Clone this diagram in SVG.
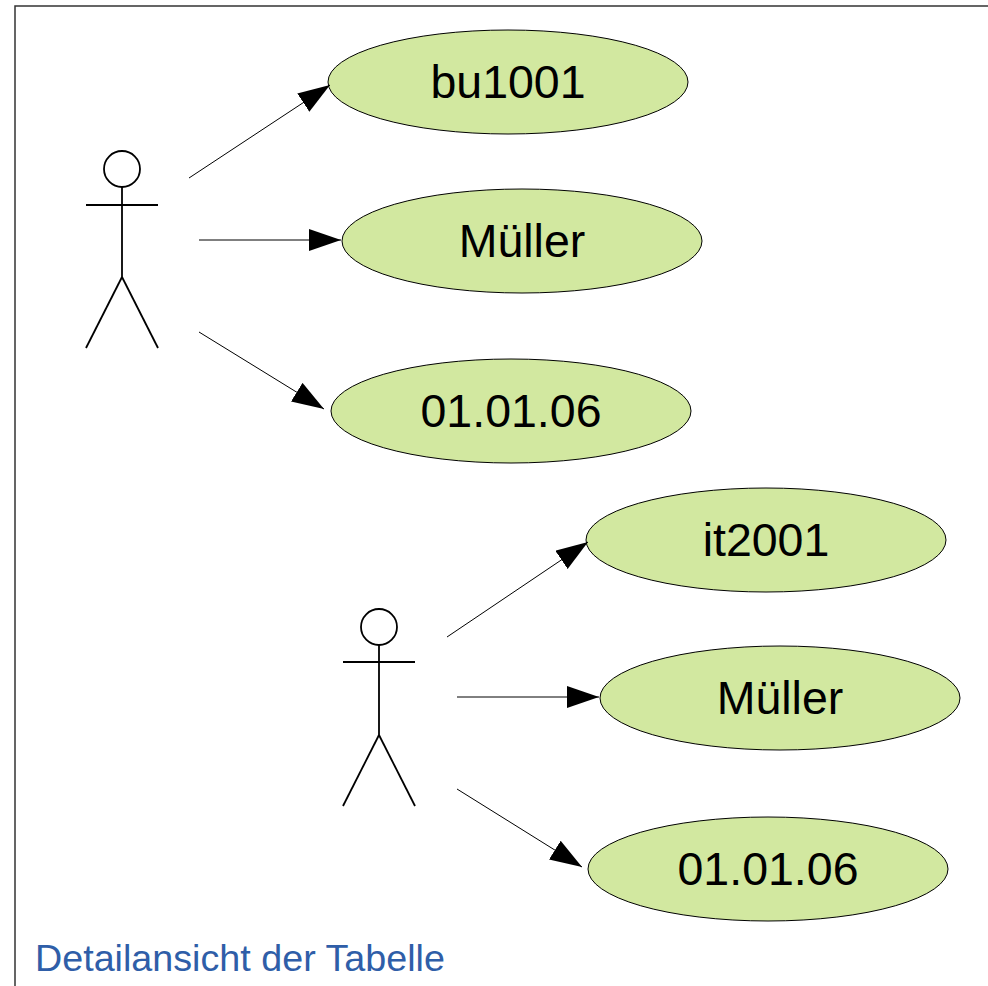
<svg xmlns="http://www.w3.org/2000/svg" width="988" height="986" viewBox="0 0 988 986">
<style>
.frame{fill:none;stroke:#333333;stroke-width:1.5}
.actor{fill:none;stroke:#000000;stroke-width:1.8}
.uc{fill:#d2e8a0;stroke:#000000;stroke-width:1}
.lbl{font-family:"Liberation Sans",Arial,sans-serif;font-size:46.5px;fill:#000000;text-anchor:middle}
.conn{stroke:#000000;stroke-width:1;fill:none}
.title{font-family:"Liberation Sans",Arial,sans-serif;font-size:37.7px;fill:#2f5ea8}
</style>
<defs>
<marker id="arrow" markerUnits="userSpaceOnUse" markerWidth="33" markerHeight="23" refX="32" refY="11" orient="auto">
<path d="M0,0 L32,11 L0,22 z" fill="#000000"/>
</marker>
</defs>
<rect width="988" height="986" fill="#ffffff"/>
<path class="frame" d="M15,986 V6 H988"/>

<g id="actor1" class="actor">
<circle cx="122" cy="169" r="18"/>
<line x1="86" y1="205" x2="158" y2="205"/>
<line x1="122" y1="187" x2="122" y2="277"/>
<line x1="122" y1="277" x2="86" y2="348"/>
<line x1="122" y1="277" x2="158" y2="348"/>
</g>
<g id="actor2" class="actor">
<circle cx="379" cy="627" r="18"/>
<line x1="343" y1="662" x2="415" y2="662"/>
<line x1="379" y1="645" x2="379" y2="735"/>
<line x1="379" y1="735" x2="343" y2="806"/>
<line x1="379" y1="735" x2="415" y2="806"/>
</g>

<g id="uc-bu1001"><ellipse class="uc" cx="508" cy="82" rx="180" ry="52"/><text class="lbl" x="508" y="98">bu1001</text></g>
<g id="uc-mueller1"><ellipse class="uc" cx="522" cy="241" rx="180" ry="52"/><text class="lbl" x="522" y="257">Müller</text></g>
<g id="uc-date1"><ellipse class="uc" cx="511" cy="411" rx="180" ry="52"/><text class="lbl" x="511" y="427">01.01.06</text></g>
<g id="uc-it2001"><ellipse class="uc" cx="766" cy="540" rx="180" ry="52"/><text class="lbl" x="766" y="556">it2001</text></g>
<g id="uc-mueller2"><ellipse class="uc" cx="780" cy="698" rx="180" ry="52"/><text class="lbl" x="780" y="714">Müller</text></g>
<g id="uc-date2"><ellipse class="uc" cx="768" cy="869" rx="180" ry="52"/><text class="lbl" x="768" y="885">01.01.06</text></g>

<g id="connectors" class="conn">
<line x1="189" y1="178" x2="330" y2="85" marker-end="url(#arrow)"/>
<line x1="199" y1="240" x2="341" y2="240" marker-end="url(#arrow)"/>
<line x1="199" y1="332" x2="324" y2="409" marker-end="url(#arrow)"/>
<line x1="447" y1="637" x2="588" y2="542" marker-end="url(#arrow)"/>
<line x1="457" y1="697" x2="599" y2="697" marker-end="url(#arrow)"/>
<line x1="457" y1="789" x2="582" y2="867" marker-end="url(#arrow)"/>
</g>

<text id="caption" class="title" x="35" y="971">Detailansicht der Tabelle</text>
</svg>
